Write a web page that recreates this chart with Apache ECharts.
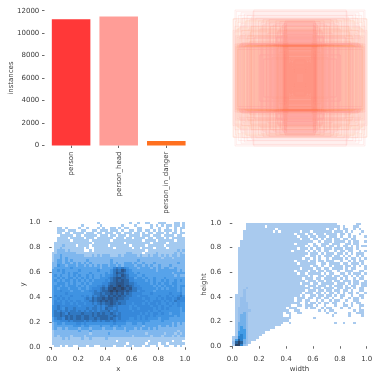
<!DOCTYPE html>
<html><head><meta charset="utf-8">
<style>html,body{margin:0;padding:0;background:#fff}#c{width:381px;height:381px;filter:blur(0.55px)}</style>
<script src="https://cdn.jsdelivr.net/npm/echarts@6/dist/echarts.min.js"></script>
</head><body><div id="c"></div>
<script>
const categories = ['person','person_head','person_in_danger'];
const instances = [11230,11480,400];
const barColors = ['#FF3838','#FF9D97','#FF701F'];

// [width, height, class] of each label box, as fractions of the image
const boxes = [
[.07,.10,0],[.08,.14,0],[.09,.18,0],[.10,.13,1],[.10,.24,0],[.12,.20,0],[.13,.26,1],[.14,.16,0],[.15,.28,0],[.15,.22,0],[.08,.26,0],[.06,.07,1],[.11,.09,0],[.13,.12,0],
[.17,.34,0],[.18,.42,1],[.18,.56,0],[.19,.64,0],[.19,.38,1],[.20,.48,0],[.20,.72,0],[.20,.82,1],[.21,.36,0],[.21,.52,0],[.21,.60,1],[.21,.78,0],[.22,.44,0],[.22,.68,1],[.22,.84,0],[.22,.30,1],[.22,.56,1],[.23,.40,1],[.23,.50,0],[.23,.64,1],[.23,.76,0],[.23,.82,1],[.24,.34,1],[.24,.46,0],[.24,.58,1],[.24,.70,1],[.24,.80,0],[.25,.42,1],[.25,.54,1],[.25,.66,0],[.26,.78,1],[.27,.48,1],[.28,.62,1],[.29,.74,0],[.30,.83,1],[.31,.38,1],[.32,.52,1],[.33,.68,1],[.34,.44,1],[.35,.60,1],[.36,.80,1],
[.33,.70,1],[.36,.84,1],[.38,.50,1],[.40,.78,1],[.43,.48,1],[.45,.82,1],[.48,.66,1],[.50,.49,1],[.52,.80,1],[.55,.86,1],[.58,.50,1],[.60,.72,1],[.62,.84,1],[.64,.48,1],[.66,.88,1],[.68,.60,1],[.34,.46,1],[.42,.30,1],[.54,.28,1],[.60,.34,1],[.44,.76,1],[.50,.84,1],[.56,.78,1],[.46,.86,1],[.58,.82,1],
[.72,.47,2],[.76,.50,1],[.80,.48,0],[.83,.47,2],[.85,.50,1],[.86,.52,1],[.88,.47,2],[.90,.50,1],[.91,.46,0],[.92,.47,2],[.94,.50,1],[.95,.45,1],[.96,.47,2],[.97,.50,1],[.75,.54,1],[.93,.42,1],[.78,.49,0],[.84,.47,2],[.89,.50,0],[.93,.48,2],
[.69,1.0,1],[.70,.98,1],[.72,.90,1],[.74,.68,2],[.75,.86,1],[.78,.62,2],[.79,.92,1],[.81,.84,2],[.83,.94,1],[.85,.66,1],[.86,.88,1],[.88,.80,1],[.88,.96,1],[.90,.62,1],[.91,.74,2],[.92,.92,1],[.93,.82,2],[.94,.60,1],[.95,.98,1],[.96,.84,2],[.97,1.0,1],[.97,.76,1],[.98,.68,1],[.99,.87,1],[1.0,.87,2],[1.0,.70,1],[.77,.72,1],[.82,.64,1],[.87,.70,2],[.89,.76,1],[.91,.58,1],[.94,.72,2],[.96,.62,1],[.84,.78,1],[.80,.58,1],[.73,.76,2]
];
const boxAlpha = [0.13, 0.24, 0.16];
const boxFill = [0.002, 0.012, 0.006];

const cellColorsXY = ['', '#A4CAF0','#7FB7EE','#57A3EA','#3F93E2','#3688DA','#3078C2','#2C66A6','#2B558A','#2C4468'];
const cellColorsWH = ['', '#A9CAEE','#96BFEC','#72B0EA','#439CE6','#2C84D0','#2A639C','#2A4468','#26324A'];
const binSize = 0.02;

// x/y density per 0.02 bin, top row y=0.98 down to y=0.00
const xyRows = [
"0000000000 0000000100 0000000001 0010011000 1110001101",
"0000000000 0100000010 0000001000 0100000101 0101101101",
"0011010000 1001000101 0011010110 0011000100 1001001011",
"0011101110 0110011011 1011101001 1011011010 1011101010",
"0011011011 1101110110 1110110111 0110101101 1101011011",
"0001111101 1011111011 1011011101 1110111011 1011110110",
"0011110111 1101110111 1110111011 0111101101 1101011111",
"0011111011 1111011111 1101111111 1111011110 1111110111",
"0111111111 1111101111 1111111011 1111111011 1110111111",
"0111211110 1111011111 1011111110 1111101111 1101111111",
"0112111111 1101001111 1110111111 0110111101 1110111111",
"0122212111 1100101111 1111111111 1111101111 1111111212",
"1122222221 1111111111 1111111122 1111011112 1111112121",
"1223222222 2211121212 2211121222 2212112122 1212122122",
"1223232222 2222222222 2222222222 2222222222 2122212222",
"1233232322 2223222222 2232222222 2232222222 2222222222",
"2233233232 3232322222 2232322333 2322322232 2222222322",
"2243323332 3323232323 3233232333 3233232322 3222322222",
"2333333433 3333333323 3335656543 3323333232 3233223222",
"3343433333 4333333433 3346768754 3333333332 3333333232",
"3333434344 3333433333 4346877654 4343333333 3333323333",
"3434334343 4334343343 4456768764 4433433333 3333332322",
"3343434434 3434343344 4567887765 5344343343 3343333333",
"3434344343 4343434444 5467878775 5444434343 3434334343",
"3344434343 3434344445 5677888776 6544444343 4344344333",
"3443434443 4343444556 5787898787 6554444434 3434434344",
"3434443444 3443455567 6889889878 6655444443 4343444343",
"3445444344 4344556567 7898988787 6645544434 4444444343",
"3444454444 4444456676 7787878676 5555444544 4444544453",
"3545444544 4545465677 6878787766 5545554444 5445454564",
"3454545444 4456576778 7887877665 5555455445 4545545655",
"3545454545 5455676787 8787766655 5555545455 5454546555",
"3555455454 5545565676 7787676655 4555454554 5445454544",
"4565555555 4555556565 6776655554 5455555455 4544544544",
"4565465565 5556566565 7665655554 5545555545 4545444434",
"4656565665 6565656566 6756655555 4555554544 5444444434",
"4667657666 6766676767 6676565555 5554545455 4544344433",
"4667676767 7677676777 7667665555 5545455454 4444443433",
"3566576767 7677667677 7676565554 4545454444 3444333333",
"3445556566 6656566565 6656555544 4444444333 3433333333",
"2344344445 5454444444 4445444433 4433433333 3333323232",
"2333333344 4344333343 3343343333 3333233333 2332323222",
"2322323333 2333233332 3332333233 3232332323 2222222222",
"1222222222 3222322222 2222222232 2222222222 2222222122",
"1222222222 2222122222 2322222222 2222212222 2212221212",
"1212222122 2212222222 2222222222 1222222122 2122212122",
"1111212111 1211211111 2111111111 1111111111 1111111111",
"1111111111 1111111111 1111011111 1111110111 1111101110",
"1111111111 1111111111 1111111101 1111101111 0110111111",
"0110101100 1110110011 1110111011 0111011001 0011001010"
];

// width/height density per 0.02 bin, top row height=0.98 down to 0.00
const whRows = [
"0000011111 1111111111 1111111111 1111111110 0000001100",
"0000011111 1101111111 1111111111 1111111111 0100011000",
"0000011111 1111110111 1111111111 1111101101 0110010100",
"0000111111 1111101011 1111101110 1111111011 1010100010",
"0000111111 1111111111 1110111011 0111011110 1101000100",
"0000111111 1111111111 1111011101 1011101110 1001010001",
"0000111111 1111111111 1111101110 1101011011 0110110000",
"0001111111 1111111111 1111111111 0010111011 1101011001",
"0001111111 1111111111 1110111100 1001110111 0011011000",
"0001111111 1111111111 1111111010 1101101101 0110101011",
"0011111111 1111111111 1111011101 0110111011 1011101000",
"0011111111 1111111111 1101111010 1010110010 1101100101",
"0011111111 1111111111 1111111101 1101011101 1010101110",
"0011111111 1111111111 1111111001 1010111011 0101001010",
"0011111111 1111111111 1111110110 1010010111 1010110101",
"0011111111 1111111111 1110111101 1011011100 1001010110",
"0011111111 1111111111 1111011111 1001101111 0110111010",
"0011111111 1111111111 1111111110 1101001011 1011010101",
"0011111111 1111111111 1111101111 0110110111 1010110001",
"0011111111 1111111111 1110111101 1011011001 0011100110",
"0011111111 1111111111 1111011011 1110101100 1101011101",
"0011111111 1111111111 1111111101 0011011011 0110101010",
"0011111111 1111111111 1111110111 0110111110 1010010110",
"0011111111 1111111111 1111111011 1011011011 0111011001",
"0011111111 1111111111 1111101110 1101111101 1101011011",
"0011111111 1111111111 1111111011 1011101011 1010110011",
"0011121111 1111111111 1111111110 1110111101 1011010110",
"0011211111 1111111111 1111111011 1011011011 0110100110",
"0011211111 1111111111 1111110111 0110101101 0101101001",
"0111211111 1111111111 1111101001 1011011010 1100100110",
"0112211111 1111111111 1110111011 0110110100 1001011010",
"0112211111 1111111111 1110110110 0101001011 0010011000",
"0112221111 1111111111 1111100101 1010110110 0100101100",
"0112221111 1111111111 1100110111 0100100010 0110100110",
"0122221111 1111111111 0111000101 1001011000 1001000100",
"0122222111 1111111111 1001100000 0010101100 0000010110",
"0122321111 1111111110 1100110000 0000010010 0001001110",
"0123321111 1111111110 0100000000 0000000100 0001000010",
"0123321111 1111111111 1100000000 1000000000 0000000000",
"0123321111 1111111111 1000000000 0000000000 0000000000",
"0133321111 1111111110 0100000000 0000000010 0100010000",
"0133321111 1111111100 0000000000 0000000000 0000000000",
"0134321111 1111110000 0000000000 0000000000 0000000000",
"0134421111 1111000000 0000000000 0000000000 0000000000",
"0144421111 1100000000 0000000000 0000000000 0000000000",
"0145421111 1000000000 0000000000 0000000000 0000000000",
"1255421111 0000000000 0000000000 0000000000 0000000000",
"1465321110 0000000000 0000000000 0000000000 0000000000",
"2676321000 0000000000 0000000000 0000000000 0000000000",
"1775210000 0000000000 0000000000 0000000000 0000000000"
];

const toCells = rows => {
  const out = [];
  rows.forEach((r, ri) => {
    r.replace(/ /g, '').split('').forEach((ch, ci) => {
      const lv = +ch;
      if (lv > 0) out.push([ci * binSize, (rows.length - 1 - ri) * binSize, lv]);
    });
  });
  return out;
};
const cellSeries = (gi, rows, palette) => ({
  type: 'custom', xAxisIndex: gi, yAxisIndex: gi, data: toCells(rows), clip: false,
  encode: { x: 0, y: 1 },
  renderItem(params, api) {
    const a = api.coord([api.value(0), api.value(1) + binSize]);
    const b = api.coord([api.value(0) + binSize, api.value(1)]);
    const x = Math.round(a[0]), y = Math.round(a[1]);
    return { type: 'rect', shape: { x, y, width: Math.round(b[0]) - x, height: Math.round(b[1]) - y },
      style: { fill: palette[api.value(2)] } };
  }
});
const txt = '#3a3a3a';
const font = { fontFamily: 'DejaVu Sans', fontSize: 7, color: txt };
const tick = { show: true, length: 2.5, lineStyle: { color: '#444', width: 0.8 } };
const unitAxis = (gi, name, offset, nameGap, margin) => ({
  type: 'value', gridIndex: gi, min: 0, max: 1, interval: 0.2, name, nameLocation: 'middle', nameGap,
  offset, nameMoveOverlap: false,
  nameTextStyle: font, splitLine: { show: false }, axisLine: { show: false }, axisTick: tick,
  axisLabel: { ...font, margin, formatter: v => v.toFixed(1) }
});

const option = {
  animation: false, backgroundColor: '#fff',
  grid: [
    { left: 47.3, width: 142.8, top: 10.7, height: 134.8 },
    { left: 233, width: 134, top: 10, height: 136 },
    { left: 51.7, width: 133.3, top: 221.7, height: 125.6 },
    { left: 232.3, width: 134.4, top: 222.8, height: 123.4 }
  ],
  xAxis: [
    { type: 'category', gridIndex: 0, data: categories, axisLine: { show: false },
      axisTick: { ...tick, alignWithLabel: true },
      axisLabel: { ...font, rotate: 90, margin: 6, interval: 0 } },
    { type: 'value', gridIndex: 1, min: -0.5, max: 0.5, show: false },
    unitAxis(2, 'x', 3.7, 14.5, 4.8),
    unitAxis(3, 'width', 4.8, 14.5, 4.8)
  ],
  yAxis: [
    { type: 'value', gridIndex: 0, min: 0, max: 12000, interval: 2000, name: 'instances', offset: 2.8,
      nameLocation: 'middle', nameGap: 29.5, nameMoveOverlap: false, nameTextStyle: font, splitLine: { show: false },
      axisLine: { show: false }, axisTick: tick, axisLabel: { ...font, margin: 5.2, formatter: v => String(v) } },
    { type: 'value', gridIndex: 1, min: -0.5, max: 0.5, show: false },
    unitAxis(2, 'y', 4.2, 21, 7),
    unitAxis(3, 'height', 5.5, 19.3, 5.5)
  ],
  series: [
    { type: 'bar', xAxisIndex: 0, yAxisIndex: 0, barWidth: '81%',
      data: instances.map((v, i) => ({ value: v, itemStyle: { color: barColors[i] } })) },
    { type: 'custom', xAxisIndex: 1, yAxisIndex: 1, data: boxes, clip: false,
      encode: { x: 0, y: 1 },
      renderItem(params, api) {
        const w = api.value(0), h = api.value(1);
        const a = api.coord([-w / 2, h / 2]), b = api.coord([w / 2, -h / 2]);
        const cls = api.value(2);
        return { type: 'rect', shape: { x: a[0], y: a[1], width: b[0] - a[0], height: b[1] - a[1] },
          style: { fill: echarts.color.modifyAlpha(barColors[cls], boxFill[cls]), stroke: echarts.color.modifyAlpha(barColors[cls], boxAlpha[cls]), lineWidth: 0.7 } };
      } },
    cellSeries(2, xyRows, cellColorsXY),
    cellSeries(3, whRows, cellColorsWH)
  ]
};
echarts.init(document.getElementById('c'), null, { renderer: 'canvas' }).setOption(option);
</script></body></html>
